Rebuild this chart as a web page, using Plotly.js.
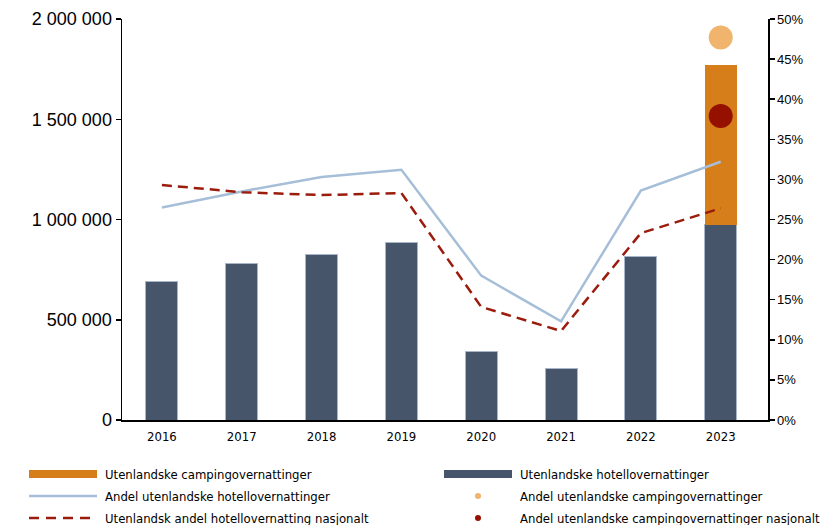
<!DOCTYPE html>
<html>
<head>
<meta charset="utf-8">
<script src="https://cdn.plot.ly/plotly-3.0.1.min.js"></script>
<style>html,body{margin:0;padding:0;background:#fff;}#chart{width:824px;height:525px;}</style>
</head>
<body>
<div id="chart"></div>
<script>
// ---- data ----
const years = ['2016','2017','2018','2019','2020','2021','2022','2023'];
const hotelNights = [690000, 780000, 827000, 886000, 340000, 255000, 816000, 975000];
const campingYears = ['2023'];
const campingNights = [795000];
const hotelShare = [0.265, 0.285, 0.303, 0.312, 0.180, 0.123, 0.286, 0.322];
const hotelShareNational = [0.293, 0.284, 0.2805, 0.283, 0.141, 0.111, 0.233, 0.264];
const campingShare = [0.477];
const campingShareNational = [0.379];
const leftTickVals = [0, 500000, 1000000, 1500000, 2000000];
const leftTickText = ['0', '500 000', '1 000 000', '1 500 000', '2 000 000'];
const legendNames = [
  'Utenlandske campingovernattinger',
  'Utenlandske hotellovernattinger',
  'Andel utenlandske hotellovernattinger',
  'Andel utenlandske campingovernattinger',
  'Utenlandsk andel hotellovernatting nasjonalt',
  'Andel utenlandske campingovernattinger nasjonalt'
];

const C_HOTEL = '#465569', C_CAMP = '#D67F1A', C_LINE = '#A6BED8', C_DASH = '#9B1B0C',
      C_DOT1 = '#F0B46C', C_DOT2 = '#961000';
const FONT = '"Liberation Sans Narrow", "DejaVu Sans Condensed", "Open Sans", sans-serif';

const traces = [
  {type:'bar', x:years, y:hotelNights, name:legendNames[1], marker:{color:C_HOTEL, line:{color:'#A9B6C8', width:1}}, width:0.4, showlegend:false},
  {type:'bar', x:campingYears, y:campingNights, name:legendNames[0], marker:{color:C_CAMP, line:{color:C_CAMP, width:0}}, width:0.4, showlegend:false},
  {type:'scatter', mode:'lines', x:years, y:hotelShare, yaxis:'y2', name:legendNames[2], line:{color:C_LINE, width:2.5}, showlegend:false},
  {type:'scatter', mode:'lines', x:years, y:hotelShareNational, yaxis:'y2', name:legendNames[4], line:{color:C_DASH, width:2.5, dash:'10px,6px'}, showlegend:false},
  {type:'scatter', mode:'markers', x:campingYears, y:campingShare, yaxis:'y2', name:legendNames[3], marker:{color:C_DOT1, size:24}, showlegend:false},
  {type:'scatter', mode:'markers', x:campingYears, y:campingShareNational, yaxis:'y2', name:legendNames[5], marker:{color:C_DOT2, size:24}, showlegend:false}
];

// plot area in pixels
const L = 122, R = 768, T = 19, B = 420;
const px = x => (x - L) / (R - L);
const py = y => (B - y) / (B - T);

const shapes = [];
const annotations = [];
const rows = [474, 496, 518];
const col1 = {s0:29, s1:97, t:103};
const col2 = {s0:444, s1:512, t:518};
const dotX = 478;
// row1: bars
shapes.push({type:'rect', xref:'paper', yref:'paper', x0:px(col1.s0), x1:px(col1.s1), y0:py(rows[0]+4), y1:py(rows[0]-4), fillcolor:C_CAMP, line:{width:0}});
shapes.push({type:'rect', xref:'paper', yref:'paper', x0:px(col2.s0), x1:px(col2.s1), y0:py(rows[0]+4), y1:py(rows[0]-4), fillcolor:C_HOTEL, line:{width:0}});
// row2: solid line + dot
shapes.push({type:'line', xref:'paper', yref:'paper', x0:px(col1.s0), x1:px(col1.s1), y0:py(rows[1]), y1:py(rows[1]), line:{color:C_LINE, width:2.5}});
shapes.push({type:'circle', xref:'paper', yref:'paper', x0:px(dotX-3), x1:px(dotX+3), y0:py(rows[1]+3), y1:py(rows[1]-3), fillcolor:C_DOT1, line:{width:0}});
// row3: dashed + dot
shapes.push({type:'line', xref:'paper', yref:'paper', x0:px(col1.s0), x1:px(col1.s1), y0:py(rows[2]), y1:py(rows[2]), line:{color:C_DASH, width:2.5, dash:'10px,7px'}});
shapes.push({type:'circle', xref:'paper', yref:'paper', x0:px(dotX-3), x1:px(dotX+3), y0:py(rows[2]+3), y1:py(rows[2]-3), fillcolor:C_DOT2, line:{width:0}});

const legendPos = [
  [col1.t, rows[0], 0], [col2.t, rows[0], 1],
  [col1.t, rows[1], 2], [col2.t, rows[1], 3],
  [col1.t, rows[2], 4], [col2.t, rows[2], 5]
];
legendPos.forEach(([x, y, i]) => {
  annotations.push({xref:'paper', yref:'paper', x:px(x), y:py(y), xanchor:'left', yanchor:'middle',
    text:legendNames[i], showarrow:false, font:{family:FONT, size:13, color:'#000'}});
});

const layout = {
  width:824, height:525,
  margin:{l:L, r:824-R, t:T, b:525-B, pad:0},
  paper_bgcolor:'#fff', plot_bgcolor:'#fff',
  barmode:'stack', bargap:0.6,
  showlegend:false,
  font:{family:FONT, color:'#000'},
  xaxis:{type:'category', showgrid:false, zeroline:false, showline:true, linecolor:'#000', linewidth:1.5,
    ticks:'', tickfont:{family:FONT, size:13, color:'#000'}, ticklabelstandoff:4},
  yaxis:{range:[0, 2000000], tickvals:leftTickVals, ticktext:leftTickText, showgrid:false, zeroline:false,
    showline:true, linecolor:'#000', linewidth:1.5, ticks:'outside', ticklen:5, tickwidth:1.5, tickcolor:'#000',
    tickfont:{family:'"Liberation Sans", "Open Sans", sans-serif', size:18, color:'#000'}},
  yaxis2:{overlaying:'y', side:'right', range:[0, 0.5], dtick:0.05, tickformat:'.0%', showgrid:false, zeroline:false,
    showline:true, linecolor:'#000', linewidth:1.5, ticks:'outside', ticklen:5, tickwidth:1.5, tickcolor:'#000',
    tickfont:{family:'"Liberation Sans", "Open Sans", sans-serif', size:13, color:'#000'}},
  shapes:shapes, annotations:annotations
};

Plotly.newPlot('chart', traces, layout, {staticPlot:true, displayModeBar:false});
</script>
</body>
</html>
